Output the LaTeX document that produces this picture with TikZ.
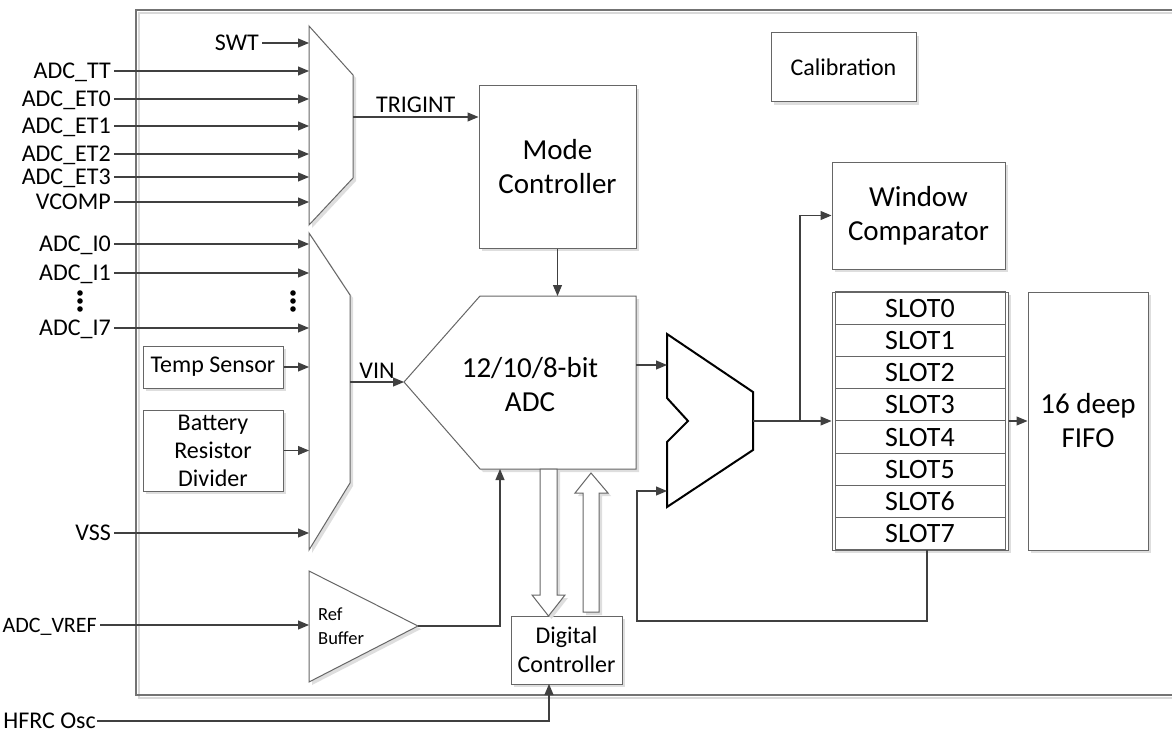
\documentclass[tikz,border=0pt]{standalone}
\usepackage{fontspec}
\setmainfont{Carlito}
\usetikzlibrary{arrows.meta}
\usetikzlibrary{shadows}

\begin{document}
\begin{tikzpicture}
  [x=1pt,y=-1pt,
   shade/.style={drop shadow={shadow xshift=3pt,shadow yshift=-3pt,fill=black!13,opacity=1}},
   box/.style={draw=black!60,fill=white,line width=1pt,align=center,inner sep=0pt,shade},
   blk/.style={draw=black!60,fill=white,line width=1pt,shade},
   omux/.style={draw=black,fill=white,line width=2pt,line join=miter},
   sig/.style={draw=black!75,line width=1.1pt,-{Triangle[length=11pt,width=9pt]}},
   txt/.style={font=\fontsize{24}{28}\selectfont},
   title/.style={font=\fontsize{29}{34}\selectfont},
   lbl/.style={txt,text height=15.5pt,text depth=0pt,inner sep=3pt,anchor=east}]
  \useasboundingbox (0,0) rectangle (1172,733);

  % chip boundary
  \draw[black!15,line width=1.5pt] (139,13) rectangle (1190,698);
  \draw[black!55,line width=1.2pt] (136,10) rectangle (1190,695);

  % trigger mux
  \draw[blk] (309,26) coordinate (tmux) -- (353,75) -- (353,178) -- (309,225) -- cycle;
  \coordinate (trig) at (353,117);
  \node[lbl] (swt) at (262,43) {SWT};
  \draw[sig] (swt.east) -- (swt.east -| tmux);
  \foreach \y/\name/\txt in {71/tt/ADC\_TT,99/et0/ADC\_ET0,126/et1/ADC\_ET1,
      154/et2/ADC\_ET2,177/et3/ADC\_ET3,202/vcomp/VCOMP} {
    \node[lbl] (\name) at (114,\y) {\txt};
    \draw[sig] (\name.east) -- (\name.east -| tmux);
  }

  \node[box,title,minimum width=157pt,minimum height=162pt] (mode) at (557.5,167) {Mode\\Controller};
  \draw[sig] (trig) -- (trig -| mode.west) node[midway,above,txt] {TRIGINT};

  % adc
  \draw[blk] (404,382) coordinate (adcin) -- (480,296) -- (636,296) -- (636,469) -- (480,469) -- cycle;
  \node[title,align=center] (adc) at (530,385) {12/10/8-bit\\ADC};
  \coordinate (adctop) at (557.5,296);
  \coordinate (adcout) at (636,365);
  \coordinate (adcref) at (500,469);
  \draw[sig] (mode.south) -- (adctop);

  % input mux
  \draw[blk] (309,233) coordinate (bmux) -- (350,295) -- (350,483) -- (309,550) -- cycle;
  \coordinate (vinout) at (350,382);
  \draw[sig] (vinout) -- (adcin) node[midway,above,txt] {VIN};
  \foreach \y/\name/\txt in {244/i0/ADC\_I0,273/i1/ADC\_I1,328/i7/ADC\_I7,533/vss/VSS} {
    \node[lbl] (\name) at (114,\y) {\txt};
    \draw[sig] (\name.east) -- (\name.east -| bmux);
  }
  \foreach \x in {80,293}
    \foreach \y in {293,301,309}
      \fill (\x,\y) circle (2.8pt);

  \node[box,txt,minimum width=140pt,minimum height=42pt] (temp) at (213,367) {Temp Sensor};
  \node[box,txt,minimum width=140pt,minimum height=81pt] (batt) at (213,450.5) {Battery\\Resistor\\Divider};
  \draw[sig] (temp.east) -- (temp.east -| bmux);
  \draw[sig] (batt.east) -- (batt.east -| bmux);

  % reference buffer
  \draw[blk] (309,571) coordinate (buf) -- (418,626) coordinate (bufout) -- (309,682) -- cycle;
  \node[font=\fontsize{18.5}{24}\selectfont,anchor=west,align=left,inner sep=0pt] (buftxt) at (318,626) {Ref\\Buffer};
  \node[lbl,font=\fontsize{22}{26}\selectfont] (vref) at (100,625) {ADC\_VREF};
  \draw[sig] (vref.east) -- (vref.east -| buf);
  \draw[sig] (bufout) -| (adcref);

  % digital controller
  \node[box,font=\fontsize{24}{29}\selectfont,minimum width=111pt,minimum height=68pt] (dig) at (566.5,650) {Digital\\Controller};
  \draw[blk] (540,469) -- (557,469) -- (557,595) -- (565,595) -- (548.5,616) -- (532,595) -- (540,595) -- cycle;
  \draw[blk] (583,612) -- (599,612) -- (599,493) -- (608,493) -- (591,473) -- (575,493) -- (583,493) -- cycle;
  \coordinate (clk) at (549,684);
  \node[lbl,inner sep=1pt] (hfrc) at (97,721) {HFRC Osc};
  \draw[sig] (hfrc.east) -| (clk);

  % result mux
  \draw[omux] (667,334) -- (753,392) -- (753,450) -- (667,507) -- (667,442) -- (688,421) -- (667,398) -- cycle;
  \coordinate (omuxa) at (667,365);
  \coordinate (omuxb) at (667,491);
  \coordinate (omuxout) at (753,421);
  \draw[sig] (adcout) -- (omuxa);

  \node[box,txt,minimum width=145pt,minimum height=69pt] (cal) at (843.5,67.5) {Calibration};
  \node[box,title,minimum width=173pt,minimum height=107pt] (win) at (918.5,215.5) {Window\\Comparator};

  % slots
  \node[box,minimum width=176pt,minimum height=258pt] (slots) at (920,421) {};
  \foreach \i in {0,...,7}
    \node[draw=black!60,line width=1pt,minimum width=170pt,minimum height=32.25pt,inner sep=0pt,
      font=\fontsize{28}{30}\selectfont] (slot\i) at (920,{308.1+32.25*\i}) {SLOT\i};
  \node[box,title,minimum width=120pt,minimum height=258pt] (fifo) at (1088,421) {16 deep\\FIFO};

  \coordinate (split) at (800,421);
  \coordinate (fb) at (927,550);
  \draw[black!75,line width=1.1pt] (omuxout) -- (split);
  \draw[sig] (split) -- (slots.west);
  \draw[sig] (split) |- (win.west);
  \draw[sig] (slots.east) -- (fifo.west);
  \draw[sig] (fb) |- (637,621) |- (omuxb);
\end{tikzpicture}
\end{document}
